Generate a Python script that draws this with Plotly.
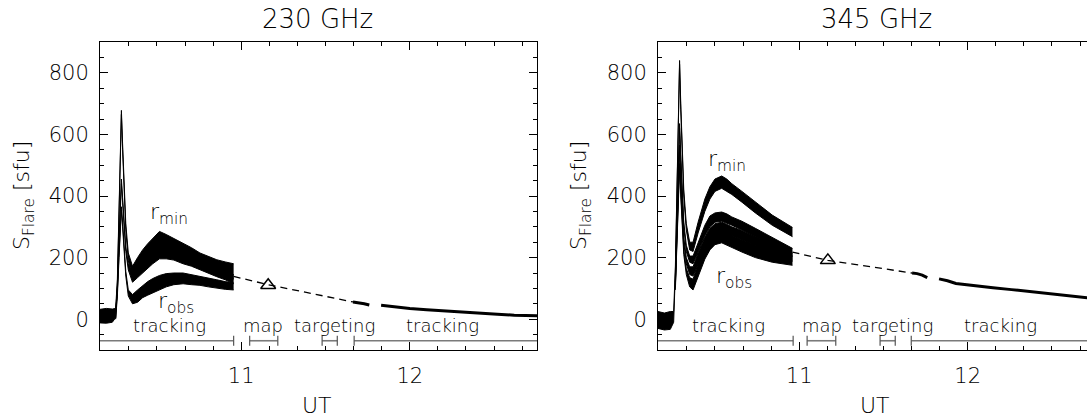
import plotly.graph_objects as go

# ---------------- data: 230 GHz ----------------
t230 = [10.162, 10.20, 10.235, 10.255, 10.265, 10.275, 10.282, 10.289, 10.296, 10.305, 10.315, 10.33,
        10.355, 10.385, 10.415, 10.445, 10.475, 10.515, 10.555, 10.60, 10.655, 10.705, 10.755, 10.805,
        10.855, 10.905, 10.955]
rmin230_lo = [-12, -13, -10, 5, 110, 340, 520, 665, 550, 410, 290, 190, 140, 160, 175, 190, 200, 210, 208, 200,
              190, 180, 168, 160, 150, 142, 130]
rmin230_hi = [32, 35, 33, 35, 130, 360, 540, 678, 570, 430, 310, 215, 172, 200, 225, 245, 262, 285, 275, 262,
              248, 232, 215, 205, 193, 186, 180]
t230b = t230[3:]
mid230_lo = [5, 90, 250, 370, 440, 380, 290, 220, 160, 120, 135, 150, 165, 180, 196, 196, 192, 180, 172, 160, 150,
             138, 128, 115]
mid230_hi = [30, 105, 265, 385, 455, 395, 305, 235, 180, 150, 165, 180, 192, 205, 220, 220, 215, 205, 195, 185, 175,
             165, 155, 145]
obs230_lo = [0, 75, 200, 300, 355, 300, 210, 140, 75, 50, 55, 70, 78, 85, 95, 105, 112, 115, 112, 110, 105, 100,
             97, 95]
obs230_hi = [25, 90, 215, 315, 365, 315, 225, 155, 95, 80, 95, 110, 122, 132, 142, 148, 150, 150, 145, 138, 133, 128,
             122, 118]
gap230_t = [10.955, 11.16, 11.663]
gap230_v = [139, 112, 56]
tri230 = (11.16, 110)
targ230_t = [11.663, 11.70, 11.73, 11.76]
targ230_v = [56, 54, 50, 46]
trk230_t = [11.83, 11.90, 12.00, 12.10, 12.20, 12.32, 12.42, 12.52, 12.62, 12.755]
trk230_v = [45, 40, 35, 31, 27, 23, 19, 16, 13, 11]

# ---------------- data: 345 GHz ----------------
t345 = [10.162, 10.20, 10.235, 10.255, 10.265, 10.275, 10.283, 10.29, 10.297, 10.305, 10.315, 10.33, 10.35,
        10.37, 10.40, 10.44, 10.47, 10.50, 10.54, 10.57, 10.60, 10.66, 10.74, 10.84, 10.96]
rmin345_lo = [-30, -35, -33, -10, 150, 450, 680, 828, 680, 520, 400, 290, 225, 220, 280, 350, 390, 415, 425, 415,
              405, 380, 345, 305, 268]
rmin345_hi = [25, 20, 25, 25, 170, 470, 700, 840, 700, 540, 420, 310, 250, 250, 315, 390, 430, 455, 465, 455, 440,
              415, 380, 338, 298]
t345b = t345[4:]
c2_345_lo = [120, 350, 520, 620, 520, 400, 300, 220, 185, 180, 220, 270, 300, 315, 318, 312, 305, 290, 268, 240, 205]
c2_345_hi = [135, 365, 535, 635, 535, 415, 315, 240, 205, 205, 250, 305, 335, 345, 348, 342, 332, 318, 295, 265, 230]
c3_345_lo = [105, 300, 450, 550, 450, 340, 250, 180, 145, 140, 180, 230, 260, 278, 285, 278, 270, 258, 240, 215, 188]
c3_345_hi = [120, 315, 465, 565, 465, 355, 265, 200, 170, 170, 215, 265, 295, 310, 315, 308, 300, 288, 268, 242, 215]
obs345_lo = [95, 270, 400, 490, 400, 300, 210, 145, 105, 95, 140, 195, 225, 242, 248, 240, 232, 218, 200, 185, 175]
obs345_hi = [110, 285, 415, 505, 415, 315, 225, 165, 135, 130, 180, 235, 265, 280, 288, 282, 272, 258, 240, 220, 205]
gap345_t = [10.96, 11.17, 11.67]
gap345_v = [218, 191, 150]
tri345 = (11.17, 191)
targ345_t = [11.67, 11.70, 11.73, 11.76]
targ345_v = [150, 148, 143, 135]
trk345_t = [11.83, 11.88, 11.93, 12.00, 12.06, 12.15, 12.26, 12.36, 12.46, 12.56, 12.70, 12.755]
trk345_v = [131, 125, 116, 111, 107, 102, 96, 90, 83, 78, 70, 67]

# observing-mode bars (start, end) and labels
modes = ["tracking", "map", "targeting", "tracking"]
mode230 = [(10.162, 10.955), (11.05, 11.217), (11.48, 11.57), (11.67, 12.755)]
mode345 = [(10.162, 10.964), (11.047, 11.217), (11.48, 11.57), (11.665, 12.755)]
lab230_t = [10.572, 11.127, 11.555, 12.196]
lab345_t = [10.583, 11.134, 11.551, 12.195]
bar_level = -70
lab_level = -20

labels_r230 = [("r<sub>min</sub>", 10.572, 343), ("r<sub>obs</sub>", 10.614, 55)]
labels_r345 = [("r<sub>min</sub>", 10.570, 515), ("r<sub>obs</sub>", 10.614, 136)]

FONT = "DejaVu Sans"
WGT = 200
fig = go.Figure()


def fnt(size):
    return dict(family=FONT, size=size, color="black", weight=WGT)


def band(t, lo, hi, xa, ya):
    fig.add_trace(go.Scatter(x=t, y=lo, mode="lines", line=dict(color="black", width=1),
                             xaxis=xa, yaxis=ya, showlegend=False, hoverinfo="skip"))
    fig.add_trace(go.Scatter(x=t, y=hi, mode="lines", line=dict(color="black", width=1),
                             fill="tonexty", fillcolor="black",
                             xaxis=xa, yaxis=ya, showlegend=False, hoverinfo="skip"))


def panel(xa, ya, bands, gap_t, gap_v, tri, targ_t, targ_v, trk_t, trk_v, mode_rng, lab_t, rlabels):
    for t, lo, hi in bands:
        band(t, lo, hi, xa, ya)
    fig.add_trace(go.Scatter(x=gap_t, y=gap_v, mode="lines",
                             line=dict(color="black", width=1.3, dash="7px,5px"),
                             xaxis=xa, yaxis=ya, showlegend=False))
    fig.add_trace(go.Scatter(x=[tri[0]], y=[tri[1]], mode="markers",
                             marker=dict(symbol="triangle-up-open", size=13, color="black",
                                         line=dict(width=1.5, color="black")),
                             xaxis=xa, yaxis=ya, showlegend=False))
    for tt, vv in ((targ_t, targ_v), (trk_t, trk_v)):
        fig.add_trace(go.Scatter(x=tt, y=vv, mode="lines", line=dict(color="black", width=3),
                                 xaxis=xa, yaxis=ya, showlegend=False))
    for i, (a, b) in enumerate(mode_rng):
        fig.add_trace(go.Scatter(x=[a, b], y=[bar_level, bar_level], mode="lines",
                                 line=dict(color="#7a7a7a", width=1.6),
                                 xaxis=xa, yaxis=ya, showlegend=False))
        caps = [b] if i == 0 else [a, b]
        if i == len(mode_rng) - 1:
            caps = [a]
        fig.add_trace(go.Scatter(x=caps, y=[bar_level] * len(caps), mode="markers",
                                 marker=dict(symbol="line-ns-open", size=7, color="#555555",
                                             line=dict(width=1.2, color="#555555")),
                                 xaxis=xa, yaxis=ya, showlegend=False))
        fig.add_annotation(x=lab_t[i], y=lab_level, xref=xa, yref=ya, text=modes[i], showarrow=False,
                           xanchor="center", yanchor="middle", font=fnt(18))
    for txt, x, y in rlabels:
        fig.add_annotation(x=x, y=y, xref=xa, yref=ya, text=txt, showarrow=False,
                           xanchor="center", yanchor="middle", font=fnt(22))


panel("x", "y", [(t230, rmin230_lo, rmin230_hi), (t230b, mid230_lo, mid230_hi), (t230b, obs230_lo, obs230_hi)],
      gap230_t, gap230_v, tri230, targ230_t, targ230_v, trk230_t, trk230_v, mode230, lab230_t, labels_r230)
panel("x2", "y2", [(t345, rmin345_lo, rmin345_hi), (t345b, c2_345_lo, c2_345_hi), (t345b, c3_345_lo, c3_345_hi),
                   (t345b, obs345_lo, obs345_hi)],
      gap345_t, gap345_v, tri345, targ345_t, targ345_v, trk345_t, trk345_v, mode345, lab345_t, labels_r345)

W, H = 1087, 419
ydom = [1 - 350 / H, 1 - 42 / H]
common_x = dict(showline=True, linecolor="black", linewidth=1, ticks="inside", ticklen=8, tickcolor="black",
                dtick=1, tick0=0, showgrid=False, zeroline=False, ticklabelstandoff=7,
                tickfont=fnt(21),
                minor=dict(dtick=1 / 6, tick0=0, ticks="inside", ticklen=4, tickcolor="black", showgrid=False))
common_y = dict(showline=True, linecolor="black", linewidth=1, ticks="inside", ticklen=8, tickcolor="black",
                dtick=200, tick0=0, range=[-100, 900], showgrid=False, zeroline=False, ticklabelstandoff=6,
                tickfont=fnt(21),
                minor=dict(dtick=50, tick0=0, ticks="inside", ticklen=4, tickcolor="black", showgrid=False))

fig.update_layout(
    width=W, height=H, margin=dict(l=0, r=0, t=0, b=0), paper_bgcolor="white", plot_bgcolor="white",
    xaxis=dict(domain=[100 / W, 537 / W], range=[10.162, 12.755], anchor="y", mirror="ticks", **common_x),
    yaxis=dict(domain=ydom, anchor="x", mirror="ticks", **common_y),
    xaxis2=dict(domain=[658 / W, 1.0], range=[10.162, 12.708], anchor="y2", mirror="ticks", **common_x),
    yaxis2=dict(domain=ydom, anchor="x2", mirror=False, **common_y),
)

for xc, title in ((317.5, "230 GHz"), (876, "345 GHz")):
    fig.add_annotation(x=xc / W, y=1 - 19 / H, xref="paper", yref="paper", text=title, showarrow=False,
                       xanchor="center", yanchor="middle", font=fnt(26))
for xc in (317, 875):
    fig.add_annotation(x=xc / W, y=1 - 405 / H, xref="paper", yref="paper", text="UT", showarrow=False,
                       xanchor="center", yanchor="middle", font=fnt(22))
for xc in (24, 581):
    fig.add_annotation(x=xc / W, y=1 - 196 / H, xref="paper", yref="paper",
                       text="S<sub>Flare</sub> [sfu]", textangle=-90, showarrow=False,
                       xanchor="center", yanchor="middle", font=fnt(22))

fig.write_html("out.html")
